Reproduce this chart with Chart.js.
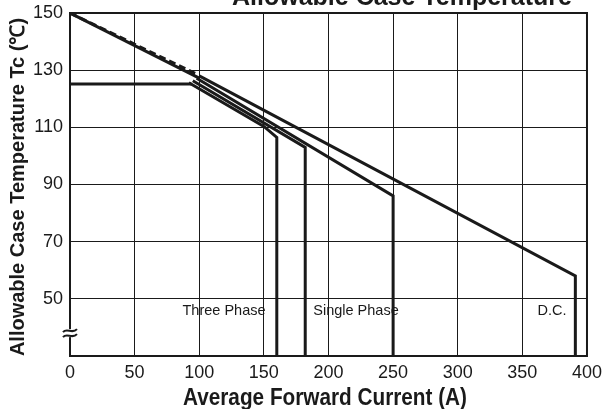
<!DOCTYPE html>
<html>
<head>
<meta charset="utf-8">
<style>
  html, body { margin: 0; padding: 0; background: #fff; }
  canvas { display: block; }
</style>
</head>
<body>
<canvas id="chart" width="608" height="409"></canvas>
<script src="https://cdn.jsdelivr.net/npm/chart.js@4"></script>
<script>
// Axis ticks
const xTicks = [0, 50, 100, 150, 200, 250, 300, 350, 400];
const yTicks = [30, 50, 70, 90, 110, 130, 150];

// Shared start of the curves (solid + dashed pair)
const commonI = [0, 100];
const commonT = [150, 127.2];
const dashedI = [0, 98];
const dashedT = [150, 128.6];

// Flat 125 degC line
const flatI = [0, 94];
const flatT = [125.2, 125.2];

// Curves after they split
const threePhaseI = [92, 150, 160, 160];
const threePhaseT = [125.6, 110.3, 106.5, 30];
const sixPhaseI = [95, 182, 182];
const sixPhaseT = [126.3, 103, 30];
const singlePhaseI = [98, 250, 250];
const singlePhaseT = [127.2, 86, 30];
const dcI = [100, 391, 391];
const dcT = [128, 58, 30];

const FONT = '"Liberation Sans", Arial, Helvetica, sans-serif';
const INK = '#1a1a1a';

function pts(xs, ys) {
  return xs.map((x, i) => ({ x: x, y: ys[i] }));
}

function curve(xs, ys, extra) {
  return Object.assign({
    data: pts(xs, ys),
    showLine: true,
    borderColor: INK,
    borderWidth: 3,
    pointRadius: 0,
    tension: 0,
    fill: false
  }, extra || {});
}

// Texts that sit on the chart
const textPlugin = {
  id: 'texts',
  afterDraw(chart) {
    const ctx = chart.ctx;
    const area = chart.chartArea;
    const ys = chart.scales.y;
    ctx.save();

    // frame
    ctx.strokeStyle = INK;
    ctx.lineWidth = 2;
    ctx.strokeRect(area.left, area.top, area.right - area.left, area.bottom - area.top);

    // axis break mark
    const by = ys.getPixelForValue(38);
    const bx = area.left;
    ctx.fillStyle = '#fff';
    ctx.fillRect(bx - 3, by - 4, 7, 8);
    ctx.lineWidth = 2;
    ctx.beginPath();
    for (const dy of [-2.5, 2.5]) {
      ctx.moveTo(bx - 7, by + dy + 1.5);
      ctx.bezierCurveTo(bx - 3, by + dy - 3.5, bx + 2, by + dy + 4, bx + 7, by + dy - 1.5);
    }
    ctx.stroke();

    // title, cut at the top
    ctx.fillStyle = INK;
    ctx.font = 'bold 25px ' + FONT;
    ctx.textAlign = 'left';
    ctx.textBaseline = 'alphabetic';
    ctx.fillText('Allowable Case Temperature', 232, 5, 353);

    // x axis title
    ctx.font = 'bold 23px ' + FONT;
    ctx.textAlign = 'center';
    ctx.fillText('Average Forward Current (A)', 325, 405, 284);

    // y axis title
    ctx.save();
    ctx.translate(18, 187);
    ctx.rotate(-Math.PI / 2);
    ctx.font = 'bold 20px ' + FONT;
    ctx.textBaseline = 'middle';
    ctx.fillText('Allowable Case Temperature Tc (\u2103)', 0, 0, 353);
    ctx.restore();

    // curve labels
    ctx.font = '14.5px ' + FONT;
    ctx.textAlign = 'center';
    ctx.textBaseline = 'middle';
    ctx.fillText('Three Phase', 224, 311);
    ctx.fillText('Single Phase', 356, 311);
    ctx.fillText('D.C.', 552, 311);

    ctx.restore();
  }
};

new Chart(document.getElementById('chart'), {
  type: 'scatter',
  data: {
    datasets: [
      curve(commonI, commonT),
      curve(dashedI, dashedT, { borderDash: [7, 4] }),
      curve(flatI, flatT),
      curve(threePhaseI, threePhaseT),
      curve(sixPhaseI, sixPhaseT),
      curve(singlePhaseI, singlePhaseT),
      curve(dcI, dcT)
    ]
  },
  options: {
    responsive: false,
    devicePixelRatio: 1,
    animation: false,
    layout: { autoPadding: false, padding: { top: 13, right: 20, left: 0, bottom: 0 } },
    plugins: {
      legend: { display: false },
      tooltip: { enabled: false }
    },
    scales: {
      x: {
        type: 'linear',
        min: 0,
        max: 400,
        afterBuildTicks: (scale) => { scale.ticks = xTicks.map(v => ({ value: v })); },
        afterFit: (scale) => { scale.height = 53; },
        ticks: {
          color: INK,
          font: { family: FONT, size: 18 },
          padding: 6,
          maxRotation: 0
        },
        grid: { color: INK, lineWidth: 1, drawTicks: false },
        border: { color: INK, width: 2 }
      },
      y: {
        type: 'linear',
        min: 30,
        max: 150,
        afterBuildTicks: (scale) => { scale.ticks = yTicks.map(v => ({ value: v })); },
        afterFit: (scale) => { scale.width = 70; scale.paddingTop = 0; scale.paddingBottom = 0; },
        ticks: {
          color: INK,
          font: { family: FONT, size: 18, lineHeight: 0.6 },
          padding: 7,
          callback: (v) => (v === 30 ? '' : v)
        },
        grid: { color: INK, lineWidth: 1, drawTicks: false },
        border: { color: INK, width: 2 }
      }
    }
  },
  plugins: [textPlugin]
});
</script>
</body>
</html>
